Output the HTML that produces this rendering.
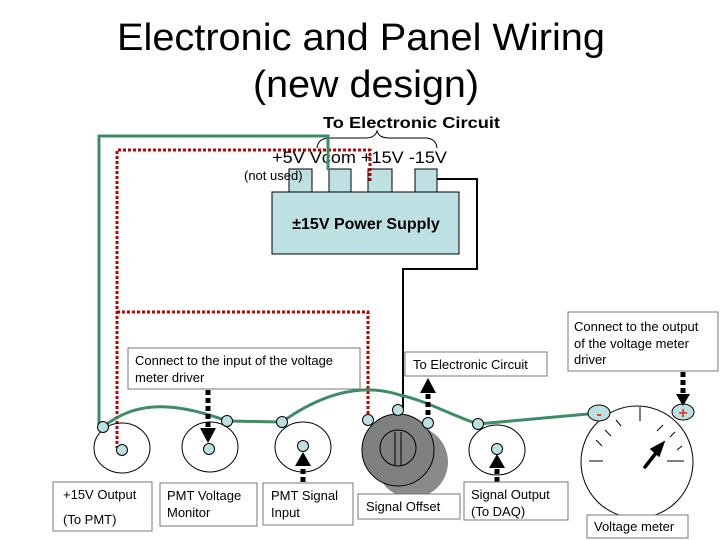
<!DOCTYPE html>
<html><head><meta charset="utf-8"><style>
html,body{margin:0;padding:0;background:#fff}
svg{display:block}
text{font-family:"Liberation Sans",Arial,sans-serif}
</style></head><body>
<svg width="720" height="540" viewBox="0 0 720 540" xmlns="http://www.w3.org/2000/svg">
<text x="361" y="50" font-size="38" text-anchor="middle" textLength="488" lengthAdjust="spacingAndGlyphs">Electronic and Panel Wiring</text>
<text x="366" y="97" font-size="38" text-anchor="middle" textLength="226" lengthAdjust="spacingAndGlyphs">(new design)</text>

<text x="323" y="128" font-size="16" font-weight="bold" textLength="177" lengthAdjust="spacingAndGlyphs">To Electronic Circuit</text>
<path d="M317,148 Q318,138 330,138 L365,138 Q375,138 377,131 Q379,138 389,138 L425,138 Q436,138 437,148" fill="none" stroke="#000" stroke-width="1"/>

<!-- power supply -->
<rect x="289" y="169" width="23" height="23" fill="#bde0e3" stroke="#000"/>
<rect x="329" y="169" width="22" height="23" fill="#bde0e3" stroke="#000"/>
<rect x="368" y="169" width="24" height="23" fill="#bde0e3" stroke="#000"/>
<rect x="415" y="169" width="22" height="23" fill="#bde0e3" stroke="#000"/>
<rect x="272" y="192" width="187" height="62" fill="#bde0e3" stroke="#000"/>
<text x="366" y="229" font-size="16" font-weight="bold" text-anchor="middle">±15V Power Supply</text>
<text x="272" y="163" font-size="17" textLength="175" lengthAdjust="spacingAndGlyphs">+5V  Vcom +15V -15V</text>
<text x="244" y="180" font-size="13">(not used)</text>

<!-- black wire -->
<polyline points="437,179 477,179 477,269 403,269 403,410" fill="none" stroke="#000" stroke-width="2"/>

<!-- red dotted -->
<polyline points="370,181 370,150 117,150 117,448" fill="none" stroke="#c00000" stroke-width="3" stroke-dasharray="3,2"/>
<polyline points="117,312 368,312 368,418" fill="none" stroke="#c00000" stroke-width="3" stroke-dasharray="3,2"/>

<!-- green wire -->
<polyline points="328,170 328,136 99,136 99,425" fill="none" stroke="#3c8c64" stroke-width="3"/>
<path d="M103,427 C130,405 165,398 227,421 L282,422 C320,395 360,382 400,395 C430,402 450,415 478,424 L599,413" fill="none" stroke="#3c8c64" stroke-width="3"/>

<!-- circles -->
<ellipse cx="122" cy="448" rx="28" ry="25" fill="none" stroke="#000"/>
<ellipse cx="210" cy="447" rx="28" ry="25" fill="none" stroke="#000"/>
<ellipse cx="303" cy="447" rx="28" ry="25" fill="none" stroke="#000"/>
<ellipse cx="497" cy="450" rx="28" ry="25" fill="none" stroke="#000"/>

<!-- knob -->
<circle cx="412" cy="462" r="36" fill="#8a8a8a"/>
<circle cx="398" cy="450" r="36" fill="#808080" stroke="#000"/>
<circle cx="398" cy="448" r="18" fill="#808080" stroke="#000"/>
<line x1="395" y1="432" x2="395" y2="466" stroke="#000"/>
<line x1="401" y1="432" x2="401" y2="466" stroke="#000"/>

<!-- meter -->
<circle cx="637" cy="462" r="56" fill="#fff" stroke="#000"/>
<g stroke="#000" stroke-width="1">
<line x1="640" y1="407" x2="640" y2="421"/>
<line x1="616" y1="420" x2="621" y2="426"/>
<line x1="605" y1="430" x2="611" y2="436"/>
<line x1="596" y1="440" x2="602" y2="446"/>
<line x1="589" y1="461" x2="603" y2="461"/>
<line x1="657" y1="431" x2="663" y2="425"/>
<line x1="670" y1="437" x2="675" y2="432"/>
<line x1="677" y1="450" x2="682" y2="446"/>
<line x1="667" y1="461" x2="684" y2="461"/>
</g>
<line x1="645" y1="467" x2="656" y2="453" stroke="#000" stroke-width="3.5" stroke-linecap="round"/>
<path d="M664,442 L651,449 L659,456z" fill="#000" stroke="#000" stroke-width="1.5"/>

<!-- nodes -->
<g fill="#bde0e3" stroke="#000" stroke-width="1">
<circle cx="103" cy="427" r="5.5"/>
<circle cx="122" cy="450" r="5.5"/>
<circle cx="227" cy="421" r="5.5"/>
<circle cx="209" cy="449" r="5.5"/>
<circle cx="282" cy="422" r="5.5"/>
<circle cx="303" cy="446" r="5.5"/>
<circle cx="368" cy="420" r="5.5"/>
<circle cx="398" cy="410" r="5.5"/>
<circle cx="428" cy="423" r="5.5"/>
<circle cx="478" cy="424" r="5.5"/>
<circle cx="497" cy="449" r="5.5"/>
<ellipse cx="599" cy="413" rx="11" ry="8"/>
<ellipse cx="683" cy="412" rx="11" ry="8"/>
</g>
<text x="599" y="419" font-size="16" font-weight="bold" fill="#e04020" text-anchor="middle">-</text>
<text x="683" y="418" font-size="16" font-weight="bold" fill="#e04020" text-anchor="middle">+</text>

<!-- dashed arrows -->
<g stroke="#000" stroke-width="5" stroke-dasharray="5,3" fill="none">
<line x1="208" y1="390" x2="208" y2="428"/>
<line x1="303" y1="498" x2="303" y2="466"/>
<line x1="428" y1="415" x2="428" y2="393"/>
<line x1="497" y1="482" x2="497" y2="468"/>
<line x1="683" y1="372" x2="683" y2="394"/>
</g>
<g fill="#000">
<path d="M200,428 L216,428 L208,443z"/>
<path d="M295,466 L311,466 L303,452z"/>
<path d="M420,393 L436,393 L428,378z"/>
<path d="M489,468 L505,468 L497,454z"/>
<path d="M676,394 L690,394 L683,406z"/>
</g>

<!-- label boxes -->
<g fill="#fff" stroke="#777" stroke-width="1">
<rect x="128" y="348" width="232" height="41"/>
<rect x="405" y="352" width="142" height="24"/>
<rect x="568" y="312" width="150" height="59"/>
<rect x="53" y="482" width="99" height="49"/>
<rect x="160" y="483" width="97" height="43"/>
<rect x="263" y="483" width="90" height="42"/>
<rect x="358" y="494" width="102" height="25"/>
<rect x="464" y="482" width="104" height="38"/>
<rect x="587" y="515" width="101" height="23"/>
</g>
<g font-size="13" fill="#000">
<text x="135" y="365">Connect to the input of the voltage</text>
<text x="135" y="382">meter driver</text>
<text x="413" y="369">To Electronic Circuit</text>
<text x="574" y="331">Connect to the output</text>
<text x="574" y="348">of the voltage meter</text>
<text x="574" y="364">driver</text>
<text x="63" y="499">+15V Output</text>
<text x="63" y="524">(To PMT)</text>
<text x="167" y="500">PMT Voltage</text>
<text x="167" y="517">Monitor</text>
<text x="271" y="500">PMT Signal</text>
<text x="271" y="517">Input</text>
<text x="366" y="511">Signal Offset</text>
<text x="471" y="499">Signal Output</text>
<text x="471" y="516">(To DAQ)</text>
<text x="594" y="531">Voltage meter</text>
</g>
</svg>
</body></html>
